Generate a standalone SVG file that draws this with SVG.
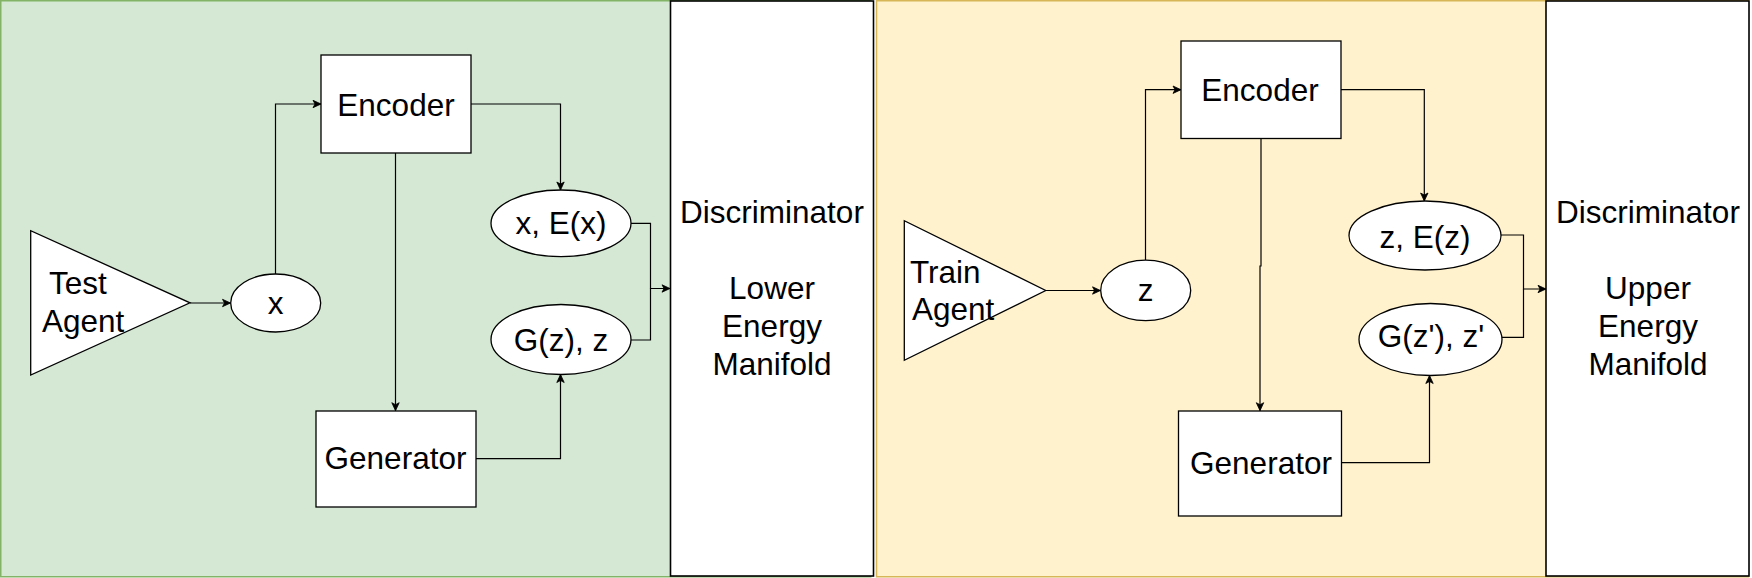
<svg xmlns="http://www.w3.org/2000/svg" width="1752" height="578" viewBox="0 0 1752 578">
<style>
.box{fill:#ffffff;stroke:#000000;stroke-width:1.3}
.disc{fill:#ffffff;stroke:#000000;stroke-width:1.6}
.t{font-family:"Liberation Sans",Arial,Helvetica,sans-serif;font-size:31.5px;fill:#000000}
.c{text-anchor:middle}
.edge{fill:none;stroke:#000000;stroke-width:1.2}
</style>
<defs>
<marker id="arr" markerUnits="userSpaceOnUse" markerWidth="10" markerHeight="10" refX="9" refY="5" orient="auto">
<path d="M1,1.3 L9,5 L1,8.7 L3,5 Z" fill="#000000" stroke="#000000" stroke-width="0.8"/>
</marker>
</defs>

<g id="panel-left">
<rect x="0.75" y="0.75" width="870" height="576" fill="#d5e8d4" stroke="#82b366" stroke-width="1.5"/>
</g>
<g id="panel-right">
<rect x="876.5" y="0.75" width="872" height="576" fill="#fff2cc" stroke="#d6b656" stroke-width="1.5"/>
</g>

<g id="discriminator-left">
<rect class="disc" x="670.5" y="1" width="203" height="575"/>
<text class="t c" x="772" y="223">Discriminator</text>
<text class="t c" x="772" y="299">Lower</text>
<text class="t c" x="772" y="337">Energy</text>
<text class="t c" x="772" y="375">Manifold</text>
</g>
<g id="discriminator-right">
<rect class="disc" x="1546" y="1" width="203" height="575"/>
<text class="t c" x="1648" y="223">Discriminator</text>
<text class="t c" x="1648" y="299">Upper</text>
<text class="t c" x="1648" y="337">Energy</text>
<text class="t c" x="1648" y="375">Manifold</text>
</g>

<g id="test-agent">
<polygon class="box" points="30.7,230.7 30.7,375 190,302.8"/>
<text class="t" x="49" y="294.3">Test</text>
<text class="t" x="42" y="331.7">Agent</text>
</g>
<g id="x-node">
<ellipse class="box" cx="275.7" cy="303" rx="45" ry="29"/>
<text class="t c" x="275.7" y="314">x</text>
</g>
<g id="encoder-left">
<rect class="box" x="321" y="55" width="150" height="98"/>
<text class="t c" x="396" y="116">Encoder</text>
</g>
<g id="generator-left">
<rect class="box" x="316" y="411" width="160" height="96"/>
<text class="t c" x="395.5" y="469">Generator</text>
</g>
<g id="xex-node">
<ellipse class="box" cx="561" cy="223.3" rx="70" ry="33.3"/>
<text class="t c" x="561" y="234.3">x, E(x)</text>
</g>
<g id="gzz-node">
<ellipse class="box" cx="561" cy="339.5" rx="70" ry="35"/>
<text class="t c" x="561" y="350.7">G(z), z</text>
</g>

<g id="train-agent">
<polygon class="box" points="904.3,220.7 904.3,360.3 1045.7,290.5"/>
<text class="t" x="910" y="282.7">Train</text>
<text class="t" x="912" y="320">Agent</text>
</g>
<g id="z-node">
<ellipse class="box" cx="1145.7" cy="290.4" rx="45" ry="30.3"/>
<text class="t c" x="1145.7" y="301">z</text>
</g>
<g id="encoder-right">
<rect class="box" x="1181" y="41" width="160" height="97.5"/>
<text class="t c" x="1260" y="100.7">Encoder</text>
</g>
<g id="generator-right">
<rect class="box" x="1178.5" y="411" width="163" height="105"/>
<text class="t c" x="1261" y="474.3">Generator</text>
</g>
<g id="zez-node">
<ellipse class="box" cx="1425" cy="235.5" rx="76" ry="34.5"/>
<text class="t c" x="1425" y="248">z, E(z)</text>
</g>
<g id="gzpzp-node">
<ellipse class="box" cx="1430.5" cy="339.5" rx="71.5" ry="36"/>
<text class="t c" x="1431" y="346.6">G(z'), z'</text>
</g>

<g id="connectors">
<path class="edge" d="M190,303 H230.5" marker-end="url(#arr)"/>
<path class="edge" d="M275.5,274 V104 H321" marker-end="url(#arr)"/>
<path class="edge" d="M471,104 H560.5 V190" marker-end="url(#arr)"/>
<path class="edge" d="M395.5,153 V410.7" marker-end="url(#arr)"/>
<path class="edge" d="M476,458.7 H560.5 V374.5" marker-end="url(#arr)"/>
<path class="edge" d="M631,223.3 H650.5 V288.5 H670" marker-end="url(#arr)"/>
<path class="edge" d="M631,340 H650.5 V288.5"/>

<path class="edge" d="M1045.7,290.5 H1100.5" marker-end="url(#arr)"/>
<path class="edge" d="M1145.5,260 V89.7 H1181" marker-end="url(#arr)"/>
<path class="edge" d="M1341,89.7 H1424.3 V201" marker-end="url(#arr)"/>
<path class="edge" d="M1261,138.5 V266 H1260 V410.7" marker-end="url(#arr)"/>
<path class="edge" d="M1341.5,462.7 H1429.5 V375.5" marker-end="url(#arr)"/>
<path class="edge" d="M1501,235 H1523.5 V289 H1546" marker-end="url(#arr)"/>
<path class="edge" d="M1502,337.3 H1523.5 V289"/>
</g>
</svg>
